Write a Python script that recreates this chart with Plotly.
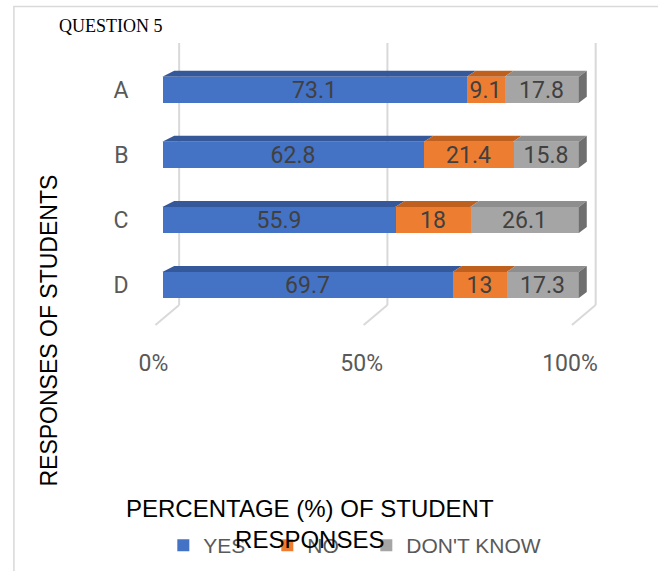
import plotly.graph_objects as go

categories = ["A", "B", "C", "D"]
series_names = ["YES", "NO", "DON'T KNOW"]
yes_vals = [73.1, 62.8, 55.9, 69.7]
no_vals = [9.1, 21.4, 18, 13]
dk_vals = [17.8, 15.8, 26.1, 17.3]
x_ticks = [0, 50, 100]
x_tick_labels = ["0%", "50%", "100%"]

front_colors = ["#4472C4", "#ED7D31", "#A5A5A5"]
top_colors = ["#34589A", "#C0601F", "#8E8E8E"]
side_color = "#6F6F6F"
legend_widths = [59, 54, 150]

W, H = 658, 571
PX_PER_UNIT = 4.21          # px per percent
X0_PX = 157                 # px of 0% (bar front)
DOM_L, DOM_R = 140, 610
PLOT_TOP, PLOT_BOT = 43, 305
CAT0_PX, CAT_STEP = 89.7, 65.1
BAR_W = 0.40

def px_to_paper_x(p):
    return p / W

def px_to_paper_y(p):
    return 1 - p / H

x_range = [(DOM_L - X0_PX) / PX_PER_UNIT, (DOM_R - X0_PX) / PX_PER_UNIT]
y_top = 0 - (CAT0_PX - PLOT_TOP) / CAT_STEP
y_bot = 3 + (PLOT_BOT - (CAT0_PX + 3 * CAT_STEP)) / CAT_STEP
ypos = list(range(len(categories)))

fig = go.Figure()

all_vals = [yes_vals, no_vals, dk_vals]
for name, vals, col, lw in zip(series_names, all_vals, front_colors, legend_widths):
    fig.add_trace(go.Bar(
        name=name, y=ypos, x=vals, orientation="h", width=BAR_W,
        marker=dict(color=col, line=dict(width=0)),
        text=[f"{v:g}" for v in vals], textposition="inside",
        insidetextanchor="middle", textangle=0, constraintext="none",
        textfont=dict(family="Roboto", size=23, color="#404040"),
        legendwidth=lw,
    ))

# 3D top faces and right side (derived from data)
dy = 6 / CAT_STEP
def dx_units(v):
    return (12 - 4 * v / 100) / PX_PER_UNIT

cum = [0.0] * len(categories)
for s, vals in enumerate(all_vals):
    xs, ys = [], []
    for i, v in enumerate(vals):
        a, b = cum[i], cum[i] + v
        top = ypos[i] - BAR_W / 2
        xs += [a, b, b + dx_units(b), a + dx_units(a), a, None]
        ys += [top, top, top - dy, top - dy, top, None]
        cum[i] = b
    fig.add_trace(go.Scatter(x=xs, y=ys, mode="lines", fill="toself",
                             fillcolor=top_colors[s], line=dict(width=0),
                             showlegend=False, hoverinfo="skip"))
xs, ys = [], []
for i in range(len(categories)):
    e = cum[i]
    top = ypos[i] - BAR_W / 2
    bot = ypos[i] + BAR_W / 2
    d = dx_units(e)
    xs += [e, e + d, e + d, e, e, None]
    ys += [top, top - dy, bot - dy, bot, top, None]
fig.add_trace(go.Scatter(x=xs, y=ys, mode="lines", fill="toself",
                         fillcolor=side_color, line=dict(width=0),
                         showlegend=False, hoverinfo="skip"))

# invisible trace for tick-label axis
fig.add_trace(go.Scatter(x=[0], y=[0], xaxis="x2", mode="markers",
                         marker=dict(opacity=0), showlegend=False, hoverinfo="skip"))

shapes = []
back_off = 17 / PX_PER_UNIT
front_off = -7 / PX_PER_UNIT
for v in x_ticks:
    shapes.append(dict(type="line", xref="x", yref="paper",
                       x0=v + back_off, x1=v + back_off,
                       y0=px_to_paper_y(PLOT_BOT), y1=px_to_paper_y(PLOT_TOP),
                       line=dict(color="#D9D9D9", width=2), layer="below"))
    shapes.append(dict(type="line", xref="x", yref="paper",
                       x0=v + front_off, x1=v + back_off,
                       y0=px_to_paper_y(325), y1=px_to_paper_y(PLOT_BOT),
                       line=dict(color="#D9D9D9", width=2), layer="below"))
shapes.append(dict(type="rect", xref="paper", yref="paper",
                   x0=px_to_paper_x(7), x1=1.02, y0=-0.02, y1=px_to_paper_y(6.5),
                   line=dict(color="#D9D9D9", width=1.5), layer="below"))

label_x0_px = 148
x2_range = [(DOM_L - label_x0_px) / PX_PER_UNIT, (DOM_R - label_x0_px) / PX_PER_UNIT]

sans = "Liberation Sans, Arial, sans-serif"

fig.update_layout(
    width=W, height=H, margin=dict(l=0, r=0, t=0, b=0),
    paper_bgcolor="white", plot_bgcolor="rgba(0,0,0,0)",
    barmode="stack", bargap=0, showlegend=True,
    shapes=shapes,
    xaxis=dict(domain=[px_to_paper_x(DOM_L), px_to_paper_x(DOM_R)], range=x_range,
               showgrid=False, zeroline=False, showticklabels=False, showline=False),
    xaxis2=dict(overlaying="x", range=x2_range, anchor="free",
                position=px_to_paper_y(347), side="bottom",
                tickvals=x_ticks, ticktext=x_tick_labels, showgrid=False,
                zeroline=False, showline=False, ticks="",
                tickfont=dict(family="Roboto", size=23, color="#595959")),
    yaxis=dict(domain=[px_to_paper_y(PLOT_BOT), px_to_paper_y(PLOT_TOP)],
               range=[y_bot, y_top], tickvals=ypos, ticktext=categories,
               showgrid=False, zeroline=False, showline=False, ticks="",
               ticklabelstandoff=16,
               tickfont=dict(family="Roboto", size=23, color="#595959")),
    legend=dict(orientation="h", x=px_to_paper_x(158), xanchor="left",
                y=px_to_paper_y(525), yanchor="top", itemwidth=30,
                traceorder="normal",
                font=dict(family=sans, size=21, color="#595959"),
                bgcolor="rgba(0,0,0,0)"),
    annotations=[
        dict(text="QUESTION 5", x=px_to_paper_x(105), y=px_to_paper_y(26),
             xref="paper", yref="paper", showarrow=False, xanchor="center", yanchor="middle",
             font=dict(family="Liberation Serif", size=18, color="#000000")),
        dict(text="RESPONSES OF STUDENTS", x=px_to_paper_x(42), y=px_to_paper_y(331),
             xref="paper", yref="paper", showarrow=False, textangle=-90,
             xanchor="center", yanchor="middle",
             font=dict(family=sans, size=23, color="#000000")),
        dict(text="PERCENTAGE (%) OF STUDENT<br>RESPONSES", x=px_to_paper_x(306),
             y=px_to_paper_y(524), xref="paper", yref="paper", showarrow=False,
             xanchor="center", yanchor="middle",
             font=dict(family=sans, size=24, color="#000000")),
    ],
)

fig.write_html("out.html")
